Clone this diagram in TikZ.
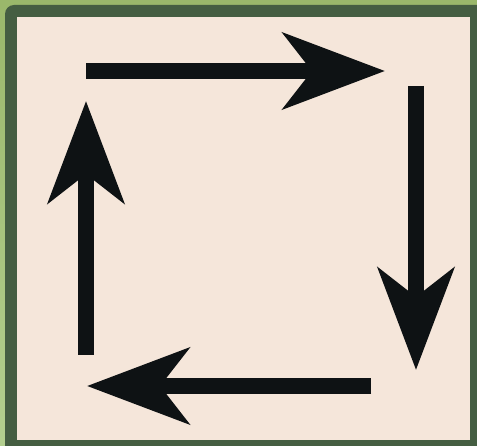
\documentclass[tikz,border=0pt]{standalone}
\usetikzlibrary{arrows.meta}

\definecolor{leaf}{HTML}{9AB86B}
\definecolor{leaflow}{HTML}{B3CF8F}
\definecolor{moss}{HTML}{455E42}
\definecolor{paper}{HTML}{F5E6DA}
\definecolor{ink}{HTML}{0E1214}

\tikzset{
    turn/.style={line width=15.5pt, color=ink,
        -{Stealth[length=102pt, width=76pt, inset=29pt]}}
}

\begin{document}
\begin{tikzpicture}[x=1pt, y=-1pt]

    \useasboundingbox (0,0) rectangle (477,446);
    \clip (0,0) rectangle (477,446);

    % frame
    \shade[top color=leaf, bottom color=leaflow] (0,0) rectangle (477,446);
    \fill[moss, rounded corners=9pt] (5,5) rectangle (500,470);
    \fill[paper] (17,17) rectangle (470,440);

    % ends of the four arrows
    \coordinate (ts) at (86,71);
    \coordinate (te) at (385,71);
    \coordinate (rs) at (416,86);
    \coordinate (re) at (416,370);
    \coordinate (bs) at (371,386);
    \coordinate (be) at (87,386);
    \coordinate (ls) at (86,355);
    \coordinate (le) at (86,101);

    \draw[turn] (ts) -- (te);
    \draw[turn] (rs) -- (re);
    \draw[turn] (bs) -- (be);
    \draw[turn] (ls) -- (le);

\end{tikzpicture}
\end{document}
